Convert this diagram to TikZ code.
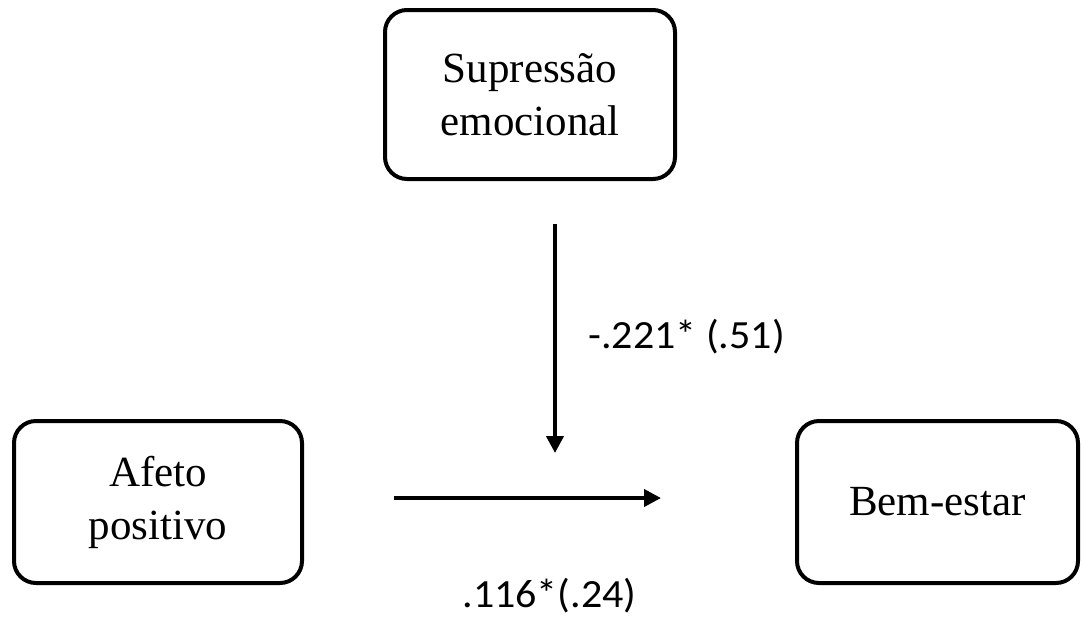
\documentclass[tikz,border=0pt]{standalone}
\usepackage{fontspec}
\setmainfont{Liberation Serif}
\newfontfamily\coeffont{Carlito}
\usepackage{graphicx}
\usetikzlibrary{arrows.meta, positioning}

\tikzset{
  varbox/.style={draw, line width=2pt, rounded corners=11pt, align=center,
    font=\fontsize{21.5pt}{26.5pt}\selectfont, inner sep=0pt},
  patharrow/.style={line width=2pt, -{Triangle[width=8.5pt,length=8.5pt]}},
  coef/.style={font=\coeffont\fontsize{20pt}{24pt}\selectfont, inner sep=0pt}
}

\begin{document}
\begin{tikzpicture}[x=0.5pt, y=-0.5pt]
    \useasboundingbox (0,0) rectangle (1082,617);

    % Variables of the model
    \node[varbox, minimum width=145pt, minimum height=84.5pt] (supressao) at (530,94.5) {Supressão\\emocional}; % moderator
    \node[varbox, minimum width=144pt, minimum height=81pt] (afeto) at (158,502) {Afeto\\positivo}; % predictor
    \node[varbox, minimum width=140.5pt, minimum height=81pt] (bemestar) at (937.5,502) {Bem-estar}; % outcome

    % Free ends of the paths
    \coordinate (modtop) at (555,224);
    \coordinate (modend) at (555,453);
    \coordinate (xstart) at (394,498);
    \coordinate (xend) at (661,498);

    % Paths
    \draw[patharrow] (modtop) -- (modend);
    \draw[patharrow] (xstart) -- (xend);

    % Coefficients
    \node[coef, anchor=base west] (coefmod) at (588,348) {\scalebox{1.05}[1]{-.221* (.51)}};
    \node[coef, anchor=base] (coefx) at (549.5,607) {\scalebox{1.05}[1]{.116*(.24)}};

\end{tikzpicture}
\end{document}
